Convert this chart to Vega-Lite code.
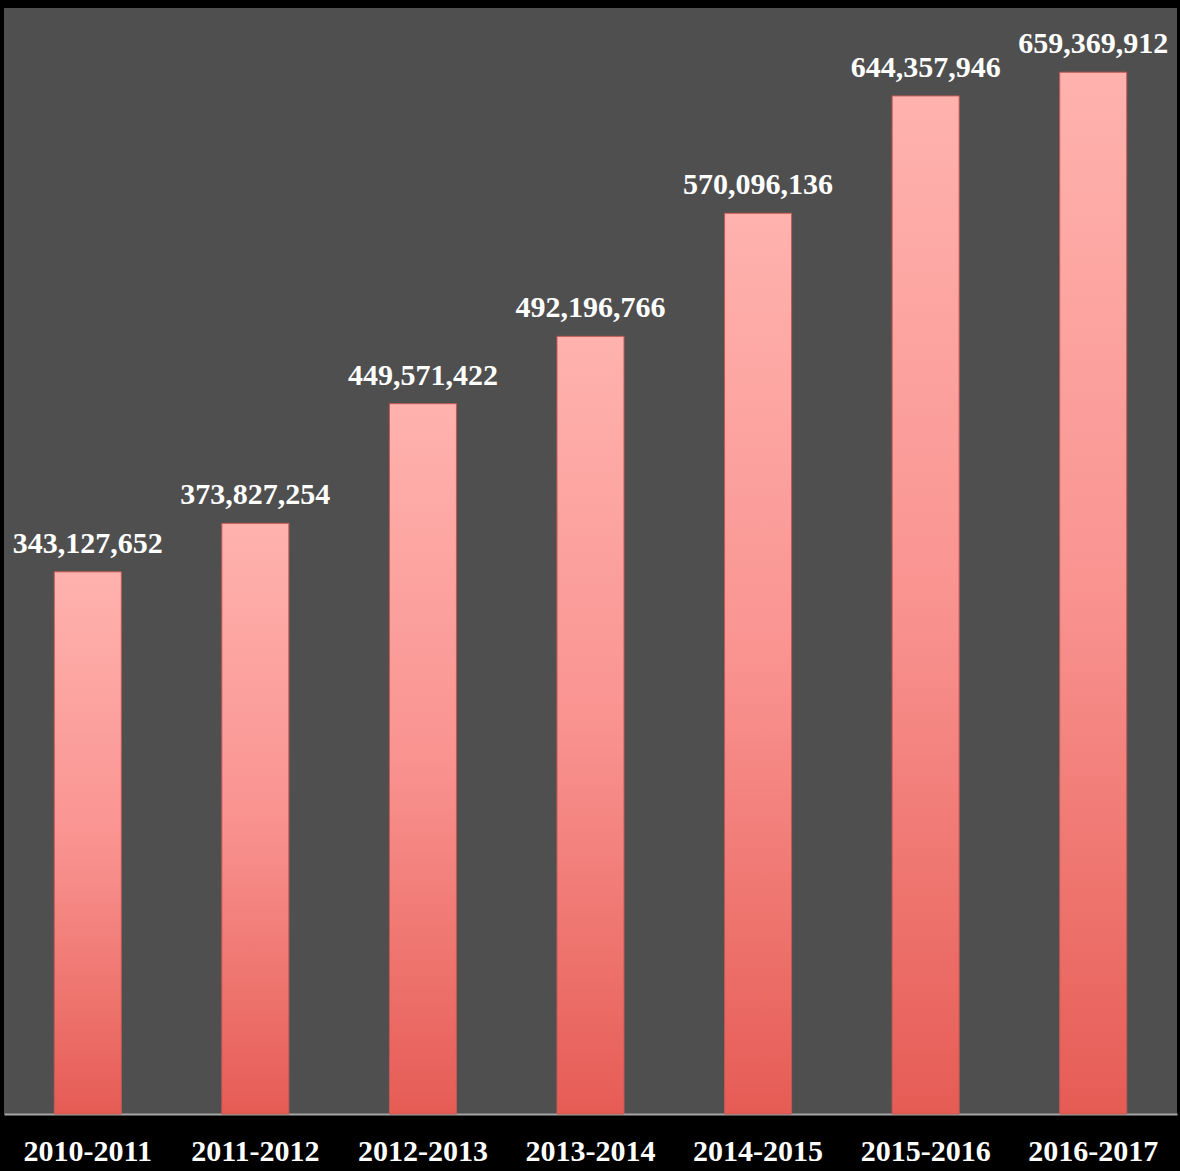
{
  "$schema": "https://vega.github.io/schema/vega-lite/v6.json",
  "width": 1173,
  "height": 1106,
  "autosize": {"type": "none"},
  "padding": {"left": 4, "top": 8, "right": 3, "bottom": 57},
  "background": "#000000",
  "view": {"fill": "#4f4f4f", "stroke": null},
  "data": {
    "values": [
      {"year": "2010-2011", "value": 343127652},
      {"year": "2011-2012", "value": 373827254},
      {"year": "2012-2013", "value": 449571422},
      {"year": "2013-2014", "value": 492196766},
      {"year": "2014-2015", "value": 570096136},
      {"year": "2015-2016", "value": 644357946},
      {"year": "2016-2017", "value": 659369912}
    ]
  },
  "encoding": {
    "x": {
      "field": "year",
      "type": "nominal",
      "sort": null,
      "scale": {"paddingInner": 0.6, "paddingOuter": 0.3},
      "axis": {
        "title": null,
        "labelAngle": 0,
        "labelFont": "Liberation Serif",
        "labelFontWeight": "bold",
        "labelFontSize": 30,
        "labelColor": "#ffffff",
        "labelPadding": 22,
        "domainColor": "#a6a6a6",
        "domainWidth": 2,
        "ticks": false
      }
    },
    "y": {
      "field": "value",
      "type": "quantitative",
      "scale": {"domain": [0, 700000000], "nice": false},
      "axis": null
    }
  },
  "layer": [
    {
      "mark": {
        "type": "bar",
        "stroke": "#c25a55",
        "strokeWidth": 1,
        "color": {
          "gradient": "linear",
          "x1": 0, "y1": 0, "x2": 0, "y2": 1,
          "stops": [
            {"offset": 0, "color": "#ffb2ae"},
            {"offset": 0.5, "color": "#f99390"},
            {"offset": 1, "color": "#e65c55"}
          ]
        }
      }
    },
    {
      "mark": {
        "type": "text",
        "baseline": "alphabetic",
        "dy": -19,
        "font": "Liberation Serif",
        "fontWeight": "bold",
        "fontSize": 30,
        "color": "#ffffff"
      },
      "encoding": {
        "text": {"field": "value", "type": "quantitative", "format": ",.0f"}
      }
    }
  ]
}
